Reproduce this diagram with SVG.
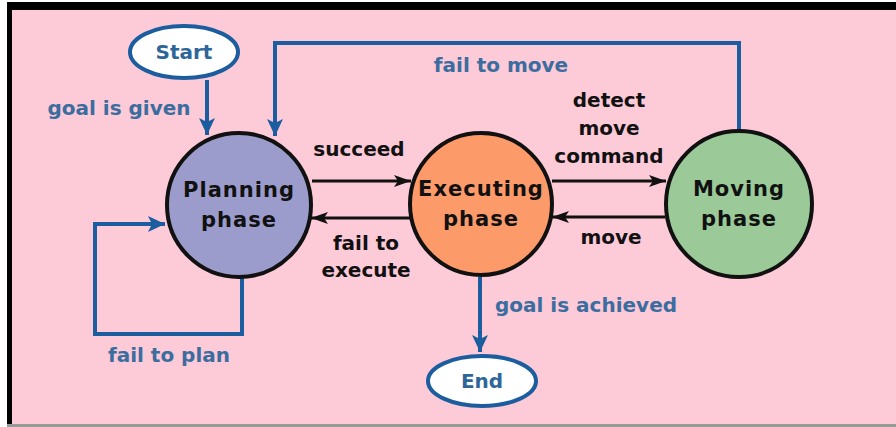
<svg xmlns="http://www.w3.org/2000/svg" width="896" height="427" viewBox="0 0 896 427">
  <style>
    .lbl { font-family: "DejaVu Sans", Verdana, sans-serif; font-weight: bold; text-anchor: middle; }
    .blue { fill: #3b6d9f; font-size: 20px; }
    .dark { fill: #111; font-size: 20px; }
    .state { fill: #111; font-size: 21px; font-weight: bold; letter-spacing: 1px; }
    .term { fill: #2f6699; font-size: 20px; }
    .circle { stroke: #111; stroke-width: 4; }
    .oval { fill: #fff; stroke: #1b5d9e; stroke-width: 4; }
    .bline { fill: none; stroke: #1b5d9e; stroke-width: 4; }
    .kline { fill: none; stroke: #111; stroke-width: 3; }
  </style>
  <defs>
    <marker id="ab" markerUnits="userSpaceOnUse" markerWidth="18" markerHeight="18" refX="17" refY="9" orient="auto">
      <path d="M0,1 L17,9 L0,17 L4,9 Z" fill="#1b5d9e"/>
    </marker>
    <marker id="ak" markerUnits="userSpaceOnUse" markerWidth="18" markerHeight="14" refX="17" refY="7" orient="auto">
      <path d="M0,1 L17,7 L0,13 L4,7 Z" fill="#111"/>
    </marker>
  </defs>

  <!-- frame and background -->
  <rect x="0" y="0" width="896" height="427" fill="#fff"/>
  <rect x="7" y="2" width="889" height="424" fill="#fdcad8"/>
  <rect x="7" y="2" width="889" height="8" fill="#000"/>
  <rect x="7" y="2" width="5" height="424" fill="#000"/>
  <rect x="7" y="424" width="889" height="3" fill="#999"/>

  <!-- connectors -->
  <g id="connectors">
    <path class="bline" d="M207,80 V135" marker-end="url(#ab)"/>
    <path class="bline" d="M739,130 V43 H275 V136" marker-end="url(#ab)"/>
    <path class="kline" d="M312,181 H411" marker-end="url(#ak)"/>
    <path class="kline" d="M410,218 H311" marker-end="url(#ak)"/>
    <path class="kline" d="M552,181 H666" marker-end="url(#ak)"/>
    <path class="kline" d="M665,217 H552" marker-end="url(#ak)"/>
    <path class="bline" d="M480,277 V352" marker-end="url(#ab)"/>
    <path class="bline" d="M242,278 V334 H95 V224 H165" marker-end="url(#ab)"/>

    <text class="lbl blue" x="119" y="115">goal is given</text>
    <text class="lbl blue" x="501" y="72">fail to move</text>
    <text class="lbl dark" x="359" y="156">succeed</text>
    <text class="lbl dark" x="609" y="107">detect</text>
    <text class="lbl dark" x="609" y="135">move</text>
    <text class="lbl dark" x="609" y="163">command</text>
    <text class="lbl dark" x="366" y="250">fail to</text>
    <text class="lbl dark" x="366" y="277">execute</text>
    <text class="lbl dark" x="611" y="244">move</text>
    <text class="lbl blue" x="586" y="312">goal is achieved</text>
    <text class="lbl blue" x="169" y="362">fail to plan</text>
  </g>

  <g id="start">
    <ellipse class="oval" cx="184" cy="52" rx="54" ry="26"/>
    <text class="lbl term" x="184" y="59">Start</text>
  </g>

  <g id="end">
    <ellipse class="oval" cx="482" cy="381" rx="54" ry="25"/>
    <text class="lbl term" x="482" y="388">End</text>
  </g>

  <g id="planning">
    <circle class="circle" cx="239" cy="205" r="72" fill="#9c9ccc"/>
    <text class="lbl state" x="239" y="197">Planning</text>
    <text class="lbl state" x="239" y="227">phase</text>
  </g>

  <g id="executing">
    <circle class="circle" cx="481" cy="204" r="71" fill="#fd9a6a"/>
    <text class="lbl state" x="481" y="196">Executing</text>
    <text class="lbl state" x="481" y="226">phase</text>
  </g>

  <g id="moving">
    <circle class="circle" cx="739" cy="204" r="73" fill="#9bca98"/>
    <text class="lbl state" x="739" y="196">Moving</text>
    <text class="lbl state" x="739" y="226">phase</text>
  </g>
</svg>
